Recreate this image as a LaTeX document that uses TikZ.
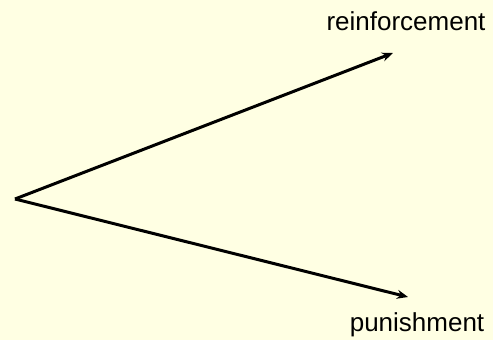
\documentclass[tikz,border=0pt]{standalone}
\usepackage{fontspec}
\setmainfont{Liberation Sans}
\usetikzlibrary{arrows.meta}
\definecolor{cream}{RGB}{255,255,227}
\tikzset{
  outcome/.style={font=\fontsize{26}{30}\selectfont, inner sep=0pt},
  branch/.style={line width=3pt, -{Stealth[length=11pt,width=9pt]}}
}
\begin{document}
\begin{tikzpicture}[x=1pt,y=-1pt]
\fill[cream] (0,0) rectangle (493,340);
\useasboundingbox (0,0) rectangle (493,340);
\coordinate (start) at (15,199);
\coordinate (up) at (393,53);
\coordinate (down) at (408,297);
\node[outcome] (reinforcement) at (406,21) {reinforcement};
\node[outcome] (punishment) at (417,325) {punishment};
\draw[branch] (start) -- (up);
\draw[branch] (start) -- (down);
\end{tikzpicture}
\end{document}
